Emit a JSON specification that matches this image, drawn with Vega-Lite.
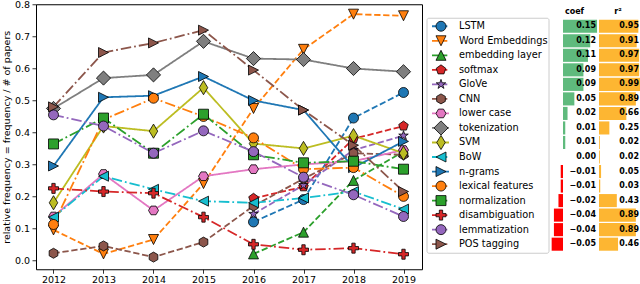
{
  "$schema": "https://vega.github.io/schema/vega-lite/v6.json",
  "padding": {"left": 0, "top": -1.75, "right": 0, "bottom": 0},
  "spacing": 3,
  "config": {
    "view": {"stroke": "#000", "strokeWidth": 1},
    "axis": {"grid": false, "domain": false, "labelFont": "DejaVu Sans", "labelFontSize": 9.5, "labelColor": "#000", "tickColor": "#000", "tickSize": 4, "tickWidth": 0.8, "labelPadding": 2.4, "titleFont": "DejaVu Sans", "titleFontSize": 9.5, "titleFontWeight": "normal", "titleColor": "#000"},
    "text": {"font": "DejaVu Sans"}
  },
  "datasets": {
    "lines": [
      {"series": "LSTM", "year": 2016, "value": 0.12},
      {"series": "LSTM", "year": 2017, "value": 0.19},
      {"series": "LSTM", "year": 2018, "value": 0.445},
      {"series": "LSTM", "year": 2019, "value": 0.525},
      {"series": "Word Embeddings", "year": 2012, "value": 0.095},
      {"series": "Word Embeddings", "year": 2013, "value": 0.02},
      {"series": "Word Embeddings", "year": 2014, "value": 0.065},
      {"series": "Word Embeddings", "year": 2015, "value": 0.24},
      {"series": "Word Embeddings", "year": 2016, "value": 0.475},
      {"series": "Word Embeddings", "year": 2017, "value": 0.66},
      {"series": "Word Embeddings", "year": 2018, "value": 0.77},
      {"series": "Word Embeddings", "year": 2019, "value": 0.765},
      {"series": "embedding layer", "year": 2016, "value": 0.02},
      {"series": "embedding layer", "year": 2017, "value": 0.088},
      {"series": "embedding layer", "year": 2018, "value": 0.25},
      {"series": "embedding layer", "year": 2019, "value": 0.34},
      {"series": "softmax", "year": 2016, "value": 0.194},
      {"series": "softmax", "year": 2017, "value": 0.23},
      {"series": "softmax", "year": 2018, "value": 0.38},
      {"series": "softmax", "year": 2019, "value": 0.42},
      {"series": "GloVe", "year": 2016, "value": 0.145},
      {"series": "GloVe", "year": 2017, "value": 0.235},
      {"series": "GloVe", "year": 2018, "value": 0.345},
      {"series": "GloVe", "year": 2019, "value": 0.39},
      {"series": "CNN", "year": 2012, "value": 0.022},
      {"series": "CNN", "year": 2013, "value": 0.045},
      {"series": "CNN", "year": 2014, "value": 0.01},
      {"series": "CNN", "year": 2015, "value": 0.057},
      {"series": "CNN", "year": 2016, "value": 0.17},
      {"series": "CNN", "year": 2017, "value": 0.255},
      {"series": "CNN", "year": 2018, "value": 0.335},
      {"series": "CNN", "year": 2019, "value": 0.33},
      {"series": "lower case", "year": 2012, "value": 0.137},
      {"series": "lower case", "year": 2013, "value": 0.27},
      {"series": "lower case", "year": 2014, "value": 0.156},
      {"series": "lower case", "year": 2015, "value": 0.263},
      {"series": "lower case", "year": 2016, "value": 0.285},
      {"series": "lower case", "year": 2017, "value": 0.3},
      {"series": "lower case", "year": 2018, "value": 0.31},
      {"series": "lower case", "year": 2019, "value": 0.345},
      {"series": "tokenization", "year": 2012, "value": 0.475},
      {"series": "tokenization", "year": 2013, "value": 0.57},
      {"series": "tokenization", "year": 2014, "value": 0.58},
      {"series": "tokenization", "year": 2015, "value": 0.685},
      {"series": "tokenization", "year": 2016, "value": 0.631},
      {"series": "tokenization", "year": 2017, "value": 0.628},
      {"series": "tokenization", "year": 2018, "value": 0.6},
      {"series": "tokenization", "year": 2019, "value": 0.59},
      {"series": "SVM", "year": 2012, "value": 0.18},
      {"series": "SVM", "year": 2013, "value": 0.42},
      {"series": "SVM", "year": 2014, "value": 0.404},
      {"series": "SVM", "year": 2015, "value": 0.54},
      {"series": "SVM", "year": 2016, "value": 0.365},
      {"series": "SVM", "year": 2017, "value": 0.35},
      {"series": "SVM", "year": 2018, "value": 0.39},
      {"series": "SVM", "year": 2019, "value": 0.335},
      {"series": "BoW", "year": 2012, "value": 0.135},
      {"series": "BoW", "year": 2013, "value": 0.263},
      {"series": "BoW", "year": 2014, "value": 0.222},
      {"series": "BoW", "year": 2015, "value": 0.185},
      {"series": "BoW", "year": 2016, "value": 0.18},
      {"series": "BoW", "year": 2017, "value": 0.195},
      {"series": "BoW", "year": 2018, "value": 0.215},
      {"series": "BoW", "year": 2019, "value": 0.16},
      {"series": "n-grams", "year": 2012, "value": 0.295},
      {"series": "n-grams", "year": 2013, "value": 0.51},
      {"series": "n-grams", "year": 2014, "value": 0.515},
      {"series": "n-grams", "year": 2015, "value": 0.575},
      {"series": "n-grams", "year": 2016, "value": 0.5},
      {"series": "n-grams", "year": 2017, "value": 0.47},
      {"series": "n-grams", "year": 2018, "value": 0.29},
      {"series": "n-grams", "year": 2019, "value": 0.372},
      {"series": "lexical features", "year": 2012, "value": 0.112},
      {"series": "lexical features", "year": 2013, "value": 0.44},
      {"series": "lexical features", "year": 2014, "value": 0.507},
      {"series": "lexical features", "year": 2015, "value": 0.45},
      {"series": "lexical features", "year": 2016, "value": 0.383},
      {"series": "lexical features", "year": 2017, "value": 0.285},
      {"series": "lexical features", "year": 2018, "value": 0.29},
      {"series": "lexical features", "year": 2019, "value": 0.2},
      {"series": "normalization", "year": 2012, "value": 0.364},
      {"series": "normalization", "year": 2013, "value": 0.445},
      {"series": "normalization", "year": 2014, "value": 0.335},
      {"series": "normalization", "year": 2015, "value": 0.457},
      {"series": "normalization", "year": 2016, "value": 0.33},
      {"series": "normalization", "year": 2017, "value": 0.305},
      {"series": "normalization", "year": 2018, "value": 0.31},
      {"series": "normalization", "year": 2019, "value": 0.285},
      {"series": "disambiguation", "year": 2012, "value": 0.225},
      {"series": "disambiguation", "year": 2013, "value": 0.215},
      {"series": "disambiguation", "year": 2014, "value": 0.21},
      {"series": "disambiguation", "year": 2015, "value": 0.135},
      {"series": "disambiguation", "year": 2016, "value": 0.05},
      {"series": "disambiguation", "year": 2017, "value": 0.033},
      {"series": "disambiguation", "year": 2018, "value": 0.038},
      {"series": "disambiguation", "year": 2019, "value": 0.019},
      {"series": "lemmatization", "year": 2012, "value": 0.455},
      {"series": "lemmatization", "year": 2013, "value": 0.42},
      {"series": "lemmatization", "year": 2014, "value": 0.335},
      {"series": "lemmatization", "year": 2015, "value": 0.405},
      {"series": "lemmatization", "year": 2016, "value": 0.34},
      {"series": "lemmatization", "year": 2017, "value": 0.26},
      {"series": "lemmatization", "year": 2018, "value": 0.205},
      {"series": "lemmatization", "year": 2019, "value": 0.137},
      {"series": "POS tagging", "year": 2012, "value": 0.48},
      {"series": "POS tagging", "year": 2013, "value": 0.65},
      {"series": "POS tagging", "year": 2014, "value": 0.68},
      {"series": "POS tagging", "year": 2015, "value": 0.72},
      {"series": "POS tagging", "year": 2016, "value": 0.595},
      {"series": "POS tagging", "year": 2017, "value": 0.47},
      {"series": "POS tagging", "year": 2018, "value": 0.36},
      {"series": "POS tagging", "year": 2019, "value": 0.215}
    ],
    "table": [
      {"series": "LSTM", "coef": 0.15, "r2": 0.95},
      {"series": "Word Embeddings", "coef": 0.12, "r2": 0.91},
      {"series": "embedding layer", "coef": 0.11, "r2": 0.97},
      {"series": "softmax", "coef": 0.09, "r2": 0.97},
      {"series": "GloVe", "coef": 0.09, "r2": 0.99},
      {"series": "CNN", "coef": 0.05, "r2": 0.89},
      {"series": "lower case", "coef": 0.02, "r2": 0.66},
      {"series": "tokenization", "coef": 0.01, "r2": 0.25},
      {"series": "SVM", "coef": 0.01, "r2": 0.02},
      {"series": "BoW", "coef": 0.0, "r2": 0.02},
      {"series": "n-grams", "coef": -0.01, "r2": 0.05},
      {"series": "lexical features", "coef": -0.01, "r2": 0.03},
      {"series": "normalization", "coef": -0.02, "r2": 0.43},
      {"series": "disambiguation", "coef": -0.04, "r2": 0.89},
      {"series": "lemmatization", "coef": -0.04, "r2": 0.89},
      {"series": "POS tagging", "coef": -0.05, "r2": 0.46}
    ],
    "headers": [
      {"row": "hdr", "label": "coef", "part": "coef"},
      {"row": "hdr", "label": "r²", "part": "r2"}
    ]
  },
  "hconcat": [
    {
      "width": 386,
      "height": 265,
      "data": {"name": "lines"},
      "encoding": {
        "x": {"field": "year", "type": "quantitative", "scale": {"domain": [2011.65, 2019.37], "nice": false, "zero": false}, "axis": {"values": [2012, 2013, 2014, 2015, 2016, 2017, 2018, 2019], "format": "d", "title": null, "labelPadding": 1.5}},
        "y": {"field": "value", "type": "quantitative", "scale": {"domain": [-0.028, 0.801], "nice": false, "zero": false}, "axis": {"values": [0, 0.1, 0.2, 0.3, 0.4, 0.5, 0.6, 0.7, 0.8], "format": ".1f", "title": "relative frequency = frequency / # of papers", "titlePadding": 3}}
      },
      "layer": [
        {
          "mark": {"type": "line", "strokeWidth": 1.8, "strokeCap": "butt"},
          "encoding": {
            "color": {"field": "series", "type": "nominal", "legend": null, "scale": {"domain": ["LSTM","Word Embeddings","embedding layer","softmax","GloVe","CNN","lower case","tokenization","SVM","BoW","n-grams","lexical features","normalization","disambiguation","lemmatization","POS tagging"], "range": ["#1f77b4","#ff7f0e","#2ca02c","#d62728","#9467bd","#8c564b","#e377c2","#7f7f7f","#bcbd22","#17becf","#1f77b4","#ff7f0e","#2ca02c","#d62728","#9467bd","#8c564b"]}},
            "strokeDash": {"field": "series", "type": "nominal", "legend": null, "scale": {"domain": ["LSTM","Word Embeddings","embedding layer","softmax","GloVe","CNN","lower case","tokenization","SVM","BoW","n-grams","lexical features","normalization","disambiguation","lemmatization","POS tagging"], "range": [[6.3,2.7],[6.3,2.7],[6.3,2.7],[6.3,2.7],[6.3,2.7],[6.3,2.7],[1,0],[1,0],[1,0],[10.5,3,1.8,3],[1,0],[10.5,3,1.8,3],[10.5,3,1.8,3],[10.5,3,1.8,3],[10.5,3,1.8,3],[10.5,3,1.8,3]]}}
          }
        },
        {
          "mark": {"type": "point", "filled": true, "opacity": 1, "stroke": "#000", "strokeWidth": 0.8, "size": 100},
          "encoding": {
            "color": {"field": "series", "type": "nominal", "legend": null, "scale": {"domain": ["LSTM","Word Embeddings","embedding layer","softmax","GloVe","CNN","lower case","tokenization","SVM","BoW","n-grams","lexical features","normalization","disambiguation","lemmatization","POS tagging"], "range": ["#1f77b4","#ff7f0e","#2ca02c","#d62728","#9467bd","#8c564b","#e377c2","#7f7f7f","#bcbd22","#17becf","#1f77b4","#ff7f0e","#2ca02c","#d62728","#9467bd","#8c564b"]}},
            "shape": {"field": "series", "type": "nominal", "legend": null, "scale": {"domain": ["LSTM","Word Embeddings","embedding layer","softmax","GloVe","CNN","lower case","tokenization","SVM","BoW","n-grams","lexical features","normalization","disambiguation","lemmatization","POS tagging"], "range": ["circle","M-1,-1L1,-1L0,1Z","M0,-1L1,1L-1,1Z","M0,-1L0.951,-0.309L0.588,0.809L-0.588,0.809L-0.951,-0.309Z","M0,-1L0.225,-0.309L0.951,-0.309L0.363,0.118L0.588,0.809L0,0.382L-0.588,0.809L-0.363,0.118L-0.951,-0.309L-0.225,-0.309Z","M0,-1L0.866,-0.5L0.866,0.5L0,1L-0.866,0.5L-0.866,-0.5Z","M1,0L0.5,0.866L-0.5,0.866L-1,0L-0.5,-0.866L0.5,-0.866Z","M0,-1.414L1.414,0L0,1.414L-1.414,0Z","M0,-1.414L0.849,0L0,1.414L-0.849,0Z","M-1,0L1,-1L1,1Z","M1,0L-1,-1L-1,1Z","circle","square","M-0.333,-1L0.333,-1L0.333,-0.333L1,-0.333L1,0.333L0.333,0.333L0.333,1L-0.333,1L-0.333,0.333L-1,0.333L-1,-0.333L-0.333,-0.333Z","circle","M1,0L-1,-1L-1,1Z"]}}
          }
        }
      ]
    },
    {
      "width": 213,
      "height": 265,
      "view": {"stroke": null},
      "resolve": {"scale": {"x": "independent", "y": "independent"}},
      "layer": [
        {
          "data": {"values": [{}]},
          "mark": {"type": "rect", "fill": "#ffffff", "stroke": "#cccccc", "strokeWidth": 1, "cornerRadius": 2},
          "encoding": {
            "x": {"datum": 0, "type": "quantitative", "scale": {"domain": [0, 1], "nice": false, "zero": false}, "axis": null},
            "x2": {"datum": 0.5728},
            "y": {"datum": 0.0528, "type": "quantitative", "scale": {"domain": [0, 1], "nice": false, "zero": false, "reverse": true}, "axis": null},
            "y2": {"datum": 0.9396}
          }
        },
        {
          "resolve": {"scale": {"x": "independent"}},
          "layer": [
            {
              "data": {"name": "table"},
              "encoding": {
                "y": {"field": "series", "type": "nominal", "axis": null, "scale": {"type": "band", "domain": ["hdr","LSTM","Word Embeddings","embedding layer","softmax","GloVe","CNN","lower case","tokenization","SVM","BoW","n-grams","lexical features","normalization","disambiguation","lemmatization","POS tagging"], "paddingInner": 0.1, "paddingOuter": 0.67, "align": 0.048}}
              },
              "layer": [
                {
                  "mark": {"type": "rule", "strokeWidth": 1.8, "strokeCap": "butt"},
                  "encoding": {
                    "x": {"datum": 0.0235, "type": "quantitative", "scale": {"domain": [0, 1], "nice": false, "zero": false}, "axis": null},
                    "x2": {"datum": 0.1033},
                    "color": {"field": "series", "type": "nominal", "legend": null, "scale": {"domain": ["LSTM","Word Embeddings","embedding layer","softmax","GloVe","CNN","lower case","tokenization","SVM","BoW","n-grams","lexical features","normalization","disambiguation","lemmatization","POS tagging"], "range": ["#1f77b4","#ff7f0e","#2ca02c","#d62728","#9467bd","#8c564b","#e377c2","#7f7f7f","#bcbd22","#17becf","#1f77b4","#ff7f0e","#2ca02c","#d62728","#9467bd","#8c564b"]}},
                    "strokeDash": {"field": "series", "type": "nominal", "legend": null, "scale": {"domain": ["LSTM","Word Embeddings","embedding layer","softmax","GloVe","CNN","lower case","tokenization","SVM","BoW","n-grams","lexical features","normalization","disambiguation","lemmatization","POS tagging"], "range": [[6.3,2.7],[6.3,2.7],[6.3,2.7],[6.3,2.7],[6.3,2.7],[6.3,2.7],[1,0],[1,0],[1,0],[10.5,3,1.8,3],[1,0],[10.5,3,1.8,3],[10.5,3,1.8,3],[10.5,3,1.8,3],[10.5,3,1.8,3],[10.5,3,1.8,3]]}}
                  }
                },
                {
                  "mark": {"type": "point", "filled": true, "opacity": 1, "stroke": "#000", "strokeWidth": 0.8, "size": 100},
                  "encoding": {
                    "x": {"datum": 0.0657, "type": "quantitative"},
                    "color": {"field": "series", "type": "nominal", "legend": null, "scale": {"domain": ["LSTM","Word Embeddings","embedding layer","softmax","GloVe","CNN","lower case","tokenization","SVM","BoW","n-grams","lexical features","normalization","disambiguation","lemmatization","POS tagging"], "range": ["#1f77b4","#ff7f0e","#2ca02c","#d62728","#9467bd","#8c564b","#e377c2","#7f7f7f","#bcbd22","#17becf","#1f77b4","#ff7f0e","#2ca02c","#d62728","#9467bd","#8c564b"]}},
                    "shape": {"field": "series", "type": "nominal", "legend": null, "scale": {"domain": ["LSTM","Word Embeddings","embedding layer","softmax","GloVe","CNN","lower case","tokenization","SVM","BoW","n-grams","lexical features","normalization","disambiguation","lemmatization","POS tagging"], "range": ["circle","M-1,-1L1,-1L0,1Z","M0,-1L1,1L-1,1Z","M0,-1L0.951,-0.309L0.588,0.809L-0.588,0.809L-0.951,-0.309Z","M0,-1L0.225,-0.309L0.951,-0.309L0.363,0.118L0.588,0.809L0,0.382L-0.588,0.809L-0.363,0.118L-0.951,-0.309L-0.225,-0.309Z","M0,-1L0.866,-0.5L0.866,0.5L0,1L-0.866,0.5L-0.866,-0.5Z","M1,0L0.5,0.866L-0.5,0.866L-1,0L-0.5,-0.866L0.5,-0.866Z","M0,-1.414L1.414,0L0,1.414L-1.414,0Z","M0,-1.414L0.849,0L0,1.414L-0.849,0Z","M-1,0L1,-1L1,1Z","M1,0L-1,-1L-1,1Z","circle","square","M-0.333,-1L0.333,-1L0.333,-0.333L1,-0.333L1,0.333L0.333,0.333L0.333,1L-0.333,1L-0.333,0.333L-1,0.333L-1,-0.333L-0.333,-0.333Z","circle","M1,0L-1,-1L-1,1Z"]}}
                  }
                },
                {
                  "mark": {"type": "text", "align": "left", "baseline": "middle", "font": "DejaVu Sans", "fontSize": 9.75, "color": "#000"},
                  "encoding": {
                    "x": {"datum": 0.1502, "type": "quantitative"},
                    "text": {"field": "series"}
                  }
                }
              ]
            },
            {
              "encoding": {
                "y": {"field": "series", "type": "nominal", "axis": null},
                "x": {"type": "quantitative", "scale": {"domain": [-0.5991, 0.3392], "nice": false, "zero": false}, "axis": null}
              },
              "layer": [
                {
                  "data": {"name": "table"},
                  "mark": {"type": "bar", "orient": "horizontal"},
                  "encoding": {
                    "x": {"field": "coef", "type": "quantitative"},
                    "x2": {"datum": 0},
                    "color": {"condition": {"test": "datum.coef < 0", "value": "#ff0000"}, "value": "#5fba7d"}
                  }
                },
                {
                  "data": {"name": "table"},
                  "mark": {"type": "text", "align": "right", "baseline": "middle", "font": "DejaVu Sans", "fontWeight": "bold", "fontSize": 8, "color": "#000"},
                  "encoding": {
                    "x": {"datum": 0.1454, "type": "quantitative"},
                    "text": {"field": "coef", "format": ".2f"}
                  }
                },
                {
                  "data": {"name": "headers"},
                  "transform": [{"filter": "datum.part == 'coef'"}],
                  "mark": {"type": "text", "align": "center", "baseline": "middle", "font": "DejaVu Sans", "fontWeight": "bold", "fontSize": 8, "color": "#000"},
                  "encoding": {
                    "y": {"field": "row", "type": "nominal", "axis": null},
                    "x": {"datum": 0.0507, "type": "quantitative"},
                    "text": {"field": "label"}
                  }
                }
              ]
            },
            {
              "encoding": {
                "y": {"field": "series", "type": "nominal", "axis": null},
                "x": {"type": "quantitative", "scale": {"domain": [-4.154, 0.99], "nice": false, "zero": false}, "axis": null}
              },
              "layer": [
                {
                  "data": {"name": "table"},
                  "mark": {"type": "bar", "orient": "horizontal", "color": "#fdb632"},
                  "encoding": {
                    "x": {"field": "r2", "type": "quantitative"},
                    "x2": {"datum": 0}
                  }
                },
                {
                  "data": {"name": "table"},
                  "mark": {"type": "text", "align": "right", "baseline": "middle", "font": "DejaVu Sans", "fontWeight": "bold", "fontSize": 8, "color": "#000"},
                  "encoding": {
                    "x": {"datum": 0.966, "type": "quantitative"},
                    "text": {"field": "r2", "format": ".2f"}
                  }
                },
                {
                  "data": {"name": "headers"},
                  "transform": [{"filter": "datum.part == 'r2'"}],
                  "mark": {"type": "text", "align": "center", "baseline": "middle", "font": "DejaVu Sans", "fontWeight": "bold", "fontSize": 8, "color": "#000"},
                  "encoding": {
                    "y": {"field": "row", "type": "nominal", "axis": null},
                    "x": {"datum": 0.459, "type": "quantitative"},
                    "text": {"field": "label"}
                  }
                }
              ]
            }
          ]
        }
      ]
    }
  ]
}
